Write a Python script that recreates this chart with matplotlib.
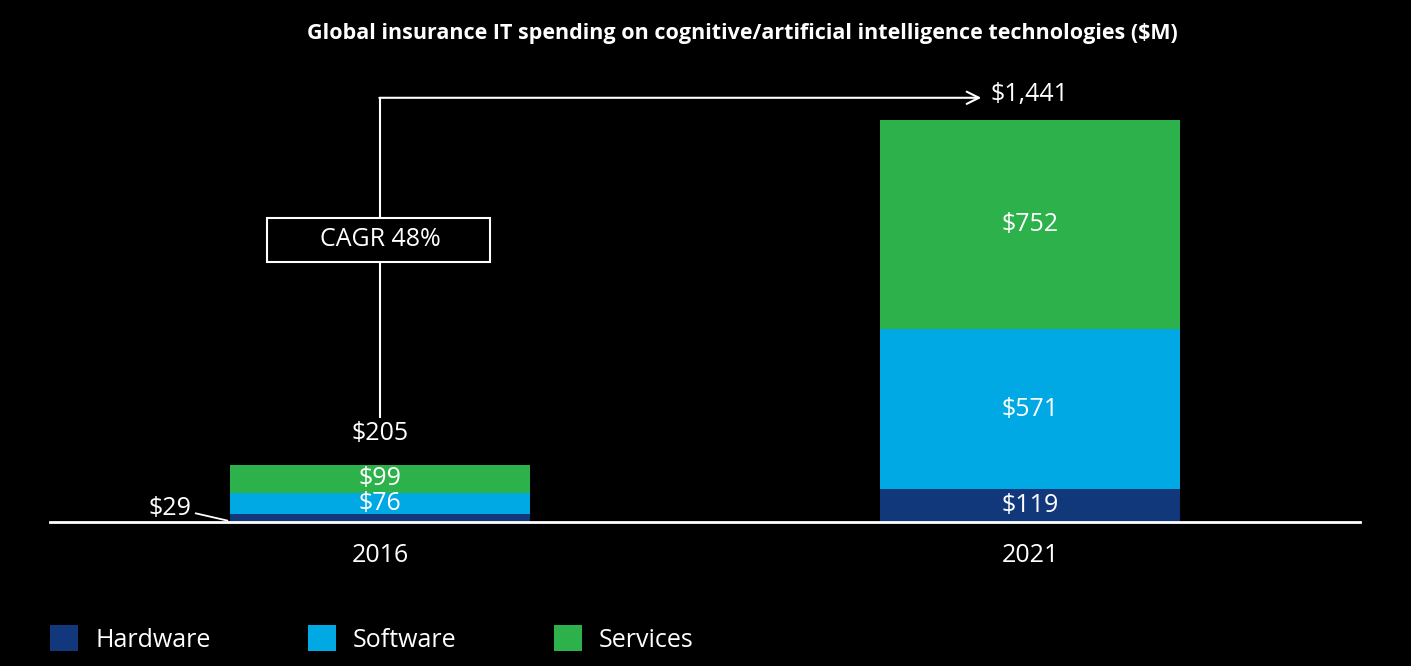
import numpy as np
import matplotlib
matplotlib.use("Agg")
import matplotlib.pyplot as plt
from matplotlib.patches import Rectangle

# Chart data
years = ["2016", "2021"]
hardware = [29, 119]
software = [76, 571]
services = [99, 752]
totals = [205, 1441]
cagr_label = "CAGR 48%"

colors = {"Hardware": "#12387C", "Software": "#00A8E4", "Services": "#2DB14B"}

plt.rcParams['font.family'] = ['Open Sans', 'DejaVu Sans']
FS = 18

fig = plt.figure(figsize=(14.11, 6.66), dpi=100, facecolor="black")
W, H = 1411, 666
# axes placed so that baseline and bars line up with the reference
ax = fig.add_axes([50 / W, 144 / H, 1310 / W, 442 / H], facecolor="black")

x = np.arange(len(years))
width = 0.4615
b1 = ax.bar(x, hardware, width, color=colors["Hardware"], label="Hardware")
b2 = ax.bar(x, software, width, bottom=hardware, color=colors["Software"], label="Software")
bottom3 = np.array(hardware) + np.array(software)
b3 = ax.bar(x, services, width, bottom=bottom3, color=colors["Services"], label="Services")

ax.set_xlim(-0.5077, 1.5077)
ax.set_ylim(0, 1584)

# segment labels
for i in range(len(years)):
    if i == 1:
        ax.text(x[i], hardware[i] / 2, f"${hardware[i]}", ha="center", va="center",
                color="white", fontsize=FS)
    ax.text(x[i], hardware[i] + software[i] / 2, f"${software[i]}", ha="center",
            va="center", color="white", fontsize=FS)
    ax.text(x[i], bottom3[i] + services[i] / 2, f"${services[i]}", ha="center",
            va="center", color="white", fontsize=FS)

# small hardware label for 2016 with a leader line
ax.annotate(f"${hardware[0]}", xy=(x[0] - width / 2 - 0.004, 5), xytext=(-0.29, 48),
            ha="right", va="center", color="white", fontsize=FS,
            arrowprops=dict(arrowstyle="-", color="white", lw=1.3, shrinkA=1, shrinkB=0,
                            relpos=(1.0, 0.35)))

# totals
ax.annotate(f"${totals[0]}", xy=(x[0], sum([hardware[0], software[0], services[0]])),
            xytext=(0, 23), textcoords="offset points", ha="center", va="center",
            color="white", fontsize=FS)
ax.annotate(f"${totals[1]:,}", xy=(x[1], sum([hardware[1], software[1], services[1]])),
            xytext=(0, 18), textcoords="offset points", ha="center", va="center",
            color="white", fontsize=FS)

# CAGR connector: vertical from 2016 total up, then arrow across to 2021 total
y_top = totals[1] * 1.055
ax.plot([x[0], x[0]], [372, y_top], color="white", lw=1.5, solid_capstyle="butt")
ax.annotate("", xy=(0.925, y_top), xytext=(x[0] - 0.001, y_top),
            arrowprops=dict(arrowstyle="->", color="white", lw=1.5,
                            shrinkA=0, shrinkB=0, mutation_scale=22))
box_w, box_h, box_y = 0.343, 158, 1011
ax.add_patch(Rectangle((x[0] - box_w / 2 - 0.002, box_y - box_h / 2), box_w, box_h,
                       facecolor="black", edgecolor="white", lw=1.5, zorder=4))
ax.text(x[0], box_y, cagr_label, ha="center", va="center", color="white",
        fontsize=FS, zorder=5)

# axis styling
for s in ["top", "right", "left"]:
    ax.spines[s].set_visible(False)
ax.spines["bottom"].set_color("white")
ax.spines["bottom"].set_linewidth(2)
ax.set_yticks([])
ax.set_xticks(x)
ax.set_xticklabels(years, color="white", fontsize=FS)
ax.tick_params(axis="x", length=0, pad=15)

fig.text(742 / W, 1 - 34 / H,
         "Global insurance IT spending on cognitive/artificial intelligence technologies ($M)",
         ha="center", va="center", color="white", fontsize=15.5, fontweight="bold")

leg = fig.legend(handles=[b1, b2, b3], loc="center left",
                 bbox_to_anchor=(50 / W, 1 - 639 / H), ncol=3, frameon=False,
                 fontsize=FS, handlelength=1.12, handleheight=1.2, handletextpad=0.68,
                 columnspacing=3.9, borderpad=0, borderaxespad=0)
for t in leg.get_texts():
    t.set_color("white")

fig.savefig("out.png", dpi=100, facecolor="black")
